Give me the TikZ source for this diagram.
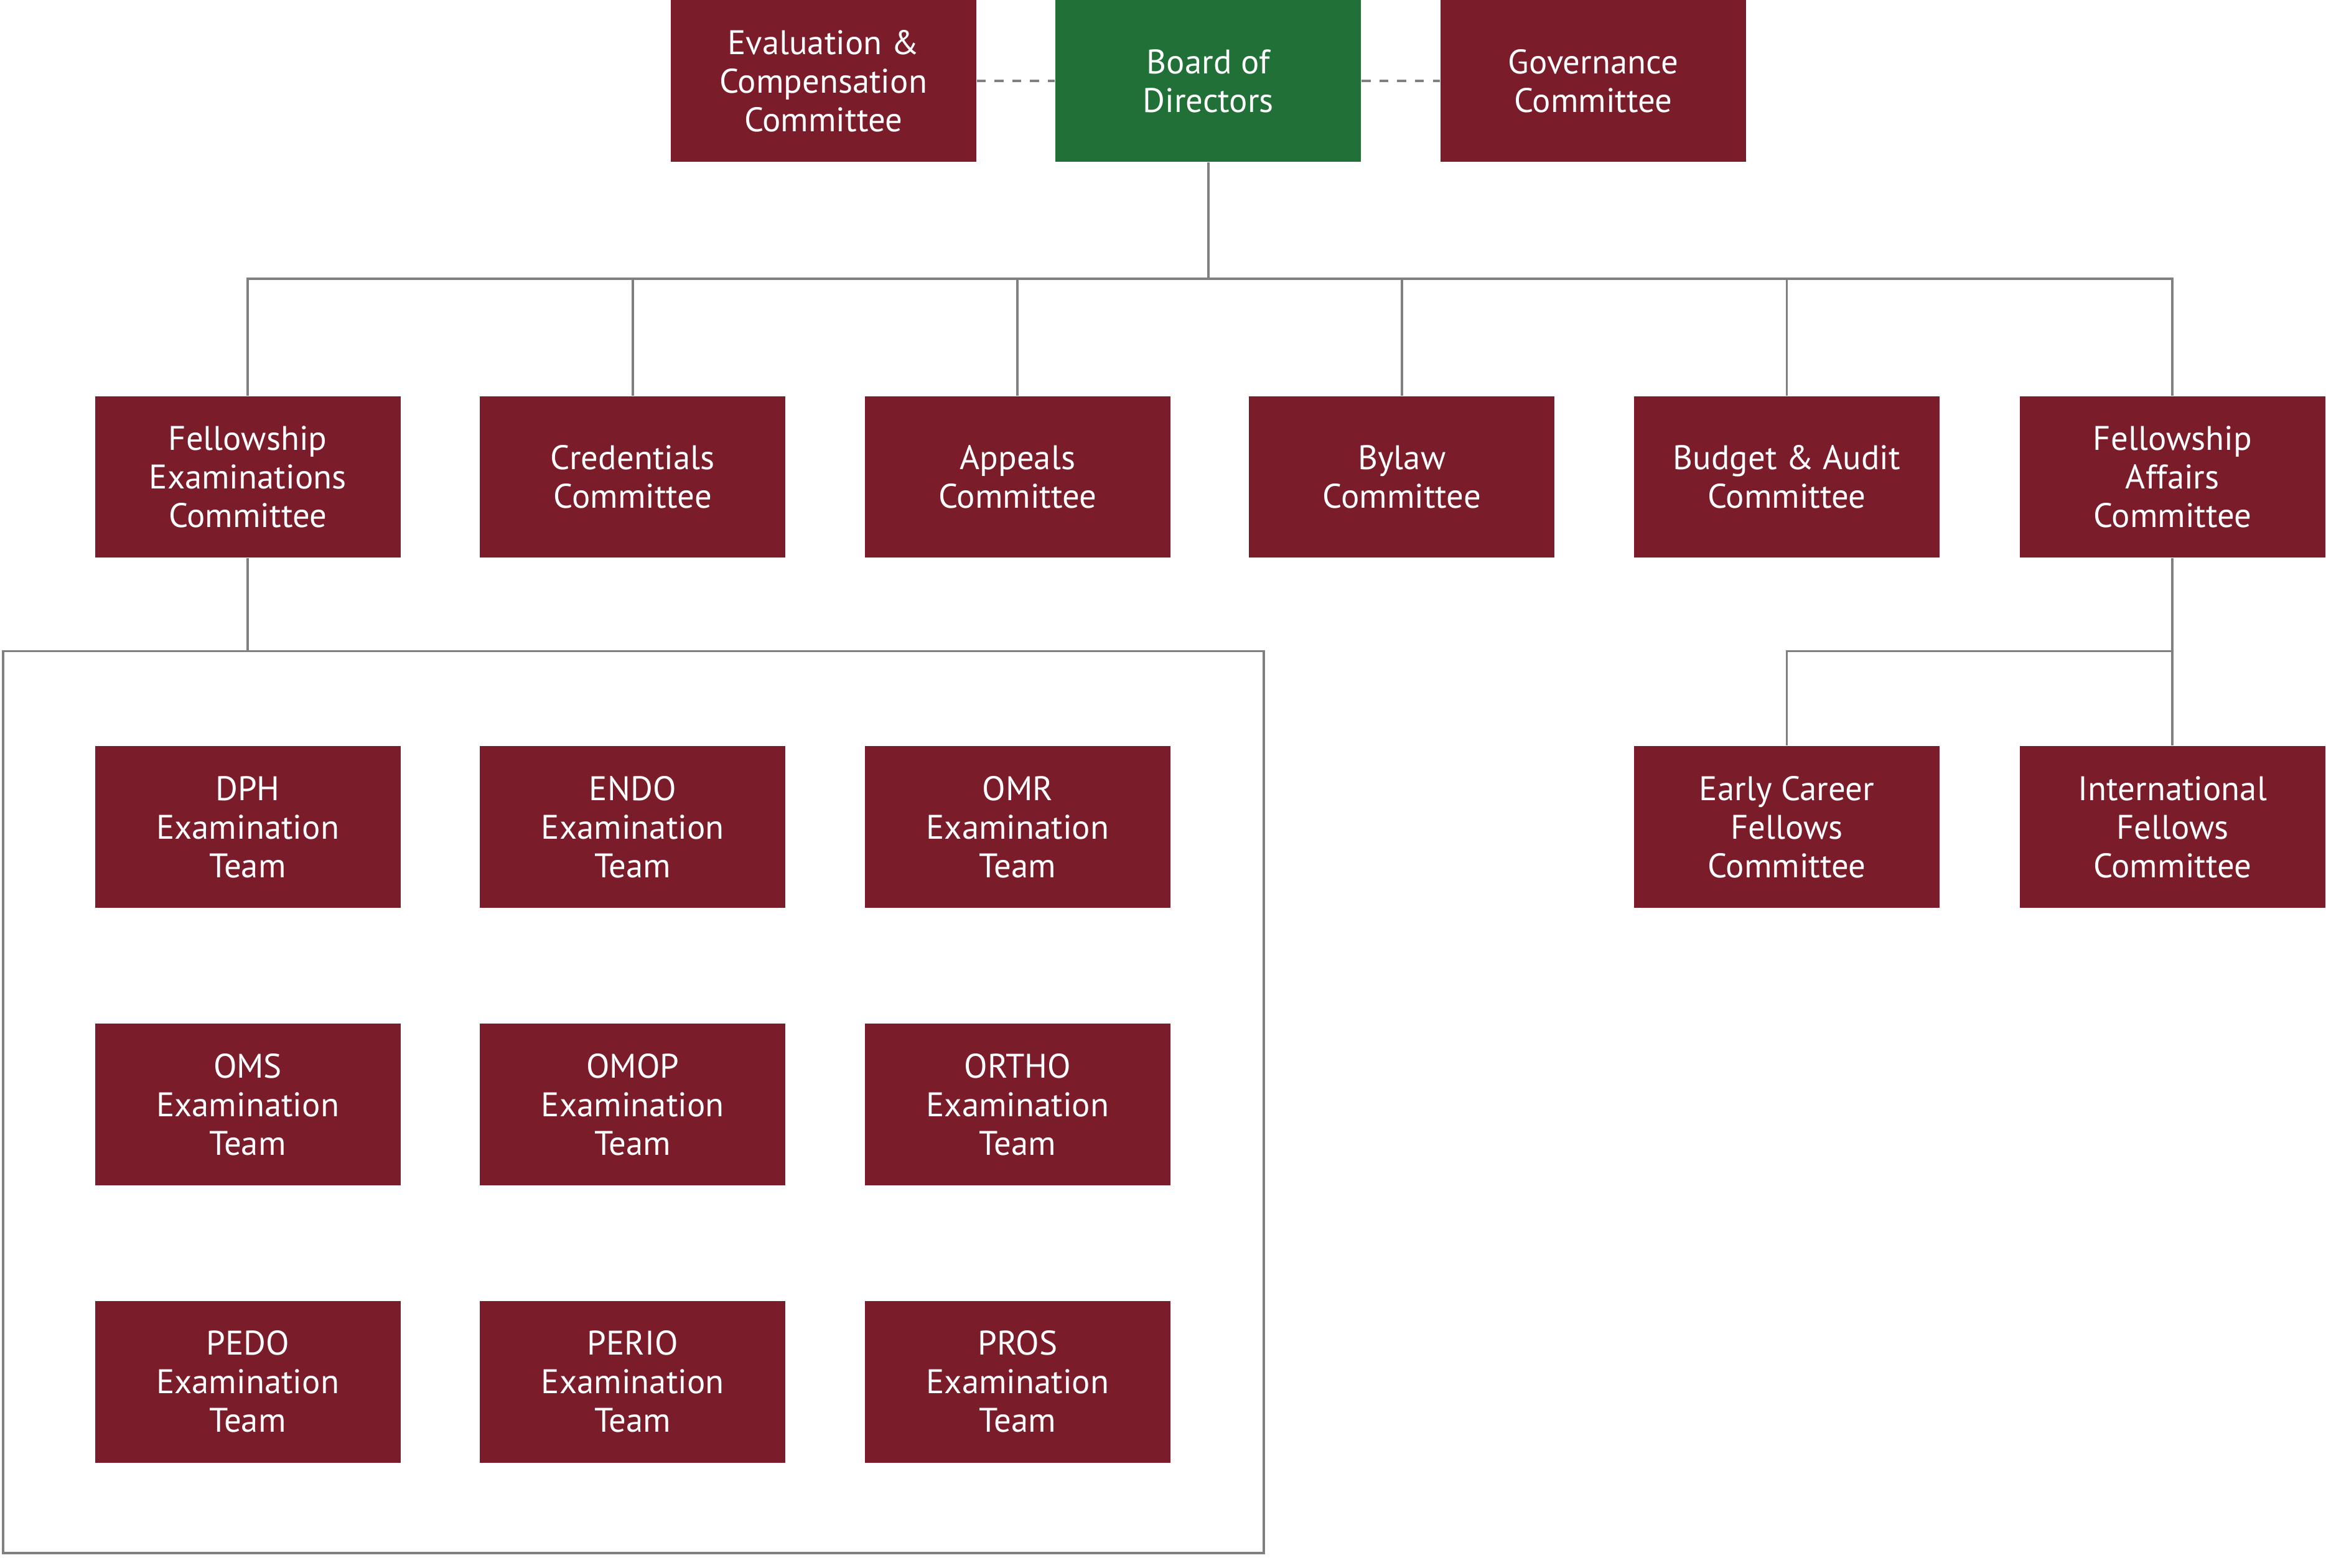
\documentclass[tikz,border=0pt]{standalone}
\usepackage{fontspec}
\setmainfont{PT Sans}
\definecolor{maroon}{HTML}{7B1C2B}
\definecolor{bgreen}{HTML}{217038}
\definecolor{lgray}{HTML}{808080}
\begin{document}
\begin{tikzpicture}[x=0.5pt,y=-0.5pt,
  box/.style={fill=maroon,text=white,minimum width=103pt,minimum height=54.5pt,inner sep=0pt,align=center,font=\fontsize{11.5}{13}\selectfont},
  ln/.style={draw=lgray,line width=0.8pt}]
\useasboundingbox (0,0) rectangle (1568,1057);
\node[box] (eval) at (555,54.5) {Evaluation \&\\Compensation\\Committee};
\node[box,fill=bgreen] (board) at (814.5,54.5) {Board of\\Directors};
\node[box] (gov) at (1074,54.5) {Governance\\Committee};
\draw[ln,dashed] (eval) -- (board);
\draw[ln,dashed] (board) -- (gov);
\node[box] (fec) at (167,321.5) {Fellowship\\Examinations\\Committee};
\node[box] (cred) at (426.5,321.5) {Credentials\\Committee};
\node[box] (app) at (686,321.5) {Appeals\\Committee};
\node[box] (byl) at (945,321.5) {Bylaw\\Committee};
\node[box] (bud) at (1204.5,321.5) {Budget \& Audit\\Committee};
\node[box] (faf) at (1464.5,321.5) {Fellowship\\Affairs\\Committee};
\coordinate (bj) at (814.5,188);
\draw[ln] (board) -- (bj);
\foreach \n in {fec,cred,app,byl,bud,faf} \draw[ln] (bj) -| (\n.north);
\node[draw=lgray,line width=0.8pt,minimum width=425pt,minimum height=304pt,inner sep=0pt] (grp) at (427,743) {};
\draw[ln] (fec) -- (fec.south |- grp.north);
\foreach \t/\x/\y/\nm in {DPH/167/557.5/a,ENDO/426.5/557.5/b,OMR/686/557.5/c,OMS/167/744.5/d,OMOP/426.5/744.5/e,ORTHO/686/744.5/f,PEDO/167/931.5/g,PERIO/426.5/931.5/h,PROS/686/931.5/i}
  \node[box] (\nm) at (\x,\y) {\t\\Examination\\Team};
\node[box] (ecf) at (1204.5,557.5) {Early Career\\Fellows\\Committee};
\node[box] (iff) at (1464.5,557.5) {International\\Fellows\\Committee};
\coordinate (fj) at (1464.5,439);
\draw[ln] (faf) -- (iff);
\draw[ln] (fj) -| (ecf.north);
\end{tikzpicture}
\end{document}
